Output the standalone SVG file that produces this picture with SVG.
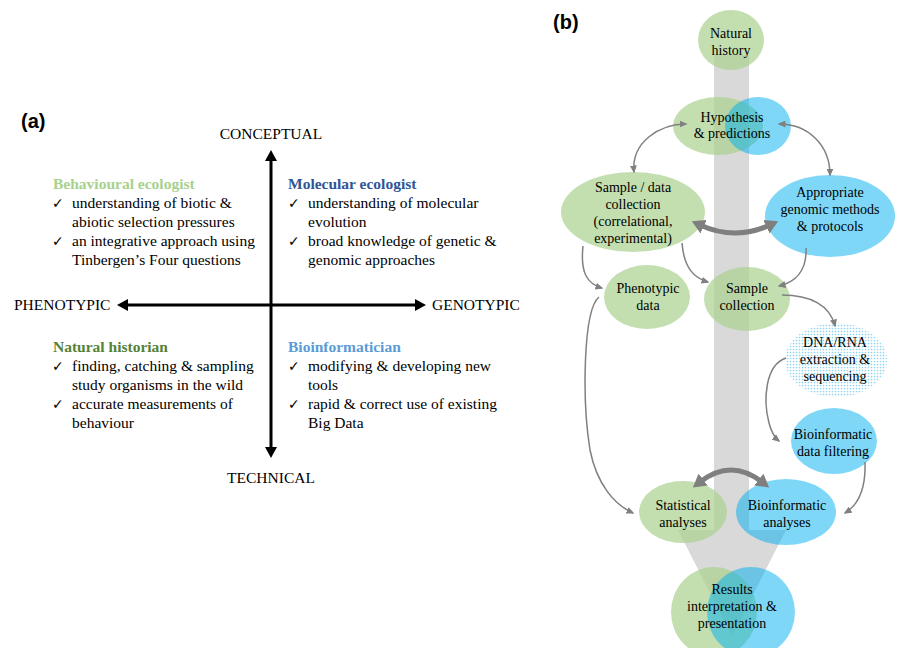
<svg xmlns="http://www.w3.org/2000/svg" width="898" height="648" viewBox="0 0 898 648">
<style>
  .lbl{font-family:"Liberation Sans",Arial,sans-serif;font-weight:bold;font-size:20px;fill:#000}
  .ax{font-family:"Liberation Serif","Times New Roman",serif;font-size:15.5px;fill:#000}
  .t{font-family:"Liberation Serif","Times New Roman",serif;font-size:15.5px;fill:#000}
  .h{font-family:"Liberation Serif","Times New Roman",serif;font-size:15.5px;font-weight:bold}
  .ck{font-family:"DejaVu Sans",sans-serif;font-size:14px;fill:#000}
  .n{font-family:"Liberation Serif","Times New Roman",serif;font-size:14px;fill:#000;text-anchor:middle}
  .g{fill:#a9d18e;fill-opacity:0.7}
  .b{fill:#00b0f0;fill-opacity:0.5}
  .c{fill:none;stroke:#808080;stroke-width:1.5}
  .ct{fill:none;stroke:#7f7f7f;stroke-width:5}
</style>
<defs>
  <marker id="ah" markerUnits="userSpaceOnUse" markerWidth="8" markerHeight="7" refX="6.5" refY="3.5" orient="auto-start-reverse">
    <path d="M0,0 L8,3.5 L0,7 z" fill="#808080"/>
  </marker>
  <marker id="ahT" markerUnits="userSpaceOnUse" markerWidth="14" markerHeight="15" refX="4" refY="7.5" orient="auto-start-reverse">
    <path d="M0,0 L13,7.5 L0,15 z" fill="#7f7f7f"/>
  </marker>
  <pattern id="dots" width="3" height="3" patternUnits="userSpaceOnUse">
    <rect width="3" height="3" fill="#ffffff"/>
    <circle cx="1.5" cy="1.5" r="0.85" fill="#8fd5f2"/>
  </pattern>
</defs>

<!-- Panel (a) -->
<text class="lbl" x="21" y="128">(a)</text>
<g id="axes">
  <line x1="271" y1="160" x2="271" y2="448" stroke="#000" stroke-width="3"/>
  <polygon points="271,150 265,161 277,161" fill="#000"/>
  <polygon points="271,458 265,447 277,447" fill="#000"/>
  <line x1="127" y1="305" x2="416" y2="305" stroke="#000" stroke-width="3"/>
  <polygon points="117,305 128,299 128,311" fill="#000"/>
  <polygon points="426,305 415,299 415,311" fill="#000"/>
  <text class="ax" x="271" y="139" text-anchor="middle">CONCEPTUAL</text>
  <text class="ax" x="271" y="483" text-anchor="middle">TECHNICAL</text>
  <text class="ax" x="14" y="310">PHENOTYPIC</text>
  <text class="ax" x="432" y="310">GENOTYPIC</text>
</g>
<g id="behavioural-ecologist">
  <text class="h" x="53" y="189" fill="#a9d18e">Behavioural ecologist</text>
  <text class="ck" x="52" y="208">✓</text>
  <text class="t" x="72" y="208">understanding of biotic &amp;</text>
  <text class="t" x="72" y="227">abiotic selection pressures</text>
  <text class="ck" x="52" y="246">✓</text>
  <text class="t" x="72" y="246">an integrative approach using</text>
  <text class="t" x="72" y="265">Tinbergen’s Four questions</text>
</g>
<g id="molecular-ecologist">
  <text class="h" x="288" y="189" fill="#2f5597">Molecular ecologist</text>
  <text class="ck" x="288" y="208">✓</text>
  <text class="t" x="308" y="208">understanding of molecular</text>
  <text class="t" x="308" y="227">evolution</text>
  <text class="ck" x="288" y="246">✓</text>
  <text class="t" x="308" y="246">broad knowledge of genetic &amp;</text>
  <text class="t" x="308" y="265">genomic approaches</text>
</g>
<g id="natural-historian">
  <text class="h" x="53" y="352" fill="#548235">Natural historian</text>
  <text class="ck" x="52" y="371">✓</text>
  <text class="t" x="72" y="371">finding, catching &amp; sampling</text>
  <text class="t" x="72" y="390">study organisms in the wild</text>
  <text class="ck" x="52" y="409">✓</text>
  <text class="t" x="72" y="409">accurate measurements of</text>
  <text class="t" x="72" y="428">behaviour</text>
</g>
<g id="bioinformatician">
  <text class="h" x="288" y="352" fill="#5b9bd5">Bioinformatician</text>
  <text class="ck" x="288" y="371">✓</text>
  <text class="t" x="308" y="371">modifying &amp; developing new</text>
  <text class="t" x="308" y="390">tools</text>
  <text class="ck" x="288" y="409">✓</text>
  <text class="t" x="308" y="409">rapid &amp; correct use of existing</text>
  <text class="t" x="308" y="428">Big Data</text>
</g>

<!-- Panel (b) -->
<text class="lbl" x="553" y="29">(b)</text>
<g id="band">
  <path d="M714,55 L749,55 L749,530 L786,530 L732,636 L678,530 L714,530 z" fill="#d9d9d9"/>
</g>
<g id="natural-history">
  <ellipse class="g" cx="731" cy="40" rx="33" ry="30"/>
  <text class="n" x="731" y="38">Natural</text>
  <text class="n" x="731" y="55">history</text>
</g>
<g id="hypothesis">
  <ellipse class="g" cx="718" cy="126" rx="45" ry="29"/>
  <ellipse class="b" cx="758" cy="126" rx="33" ry="29"/>
  <text class="n" x="732" y="122">Hypothesis</text>
  <text class="n" x="732" y="138">&amp; predictions</text>
</g>
<g id="sample-data-collection">
  <ellipse class="g" cx="633" cy="212" rx="72" ry="40"/>
  <text class="n" x="633" y="192">Sample / data</text>
  <text class="n" x="633" y="209">collection</text>
  <text class="n" x="633" y="226">(correlational,</text>
  <text class="n" x="633" y="243">experimental)</text>
</g>
<g id="genomic-methods">
  <ellipse class="b" cx="830" cy="216" rx="65" ry="41"/>
  <text class="n" x="830" y="197">Appropriate</text>
  <text class="n" x="830" y="214">genomic methods</text>
  <text class="n" x="830" y="231">&amp; protocols</text>
</g>
<g id="phenotypic-data">
  <ellipse class="g" cx="647" cy="297" rx="43" ry="32"/>
  <text class="n" x="648" y="293">Phenotypic</text>
  <text class="n" x="648" y="310">data</text>
</g>
<g id="sample-collection">
  <ellipse class="g" cx="747" cy="299" rx="43" ry="32"/>
  <text class="n" x="747" y="293">Sample</text>
  <text class="n" x="747" y="310">collection</text>
</g>
<g id="dna-rna">
  <ellipse cx="836" cy="360" rx="51" ry="37" fill="url(#dots)"/>
  <text class="n" x="835" y="347">DNA/RNA</text>
  <text class="n" x="835" y="364">extraction &amp;</text>
  <text class="n" x="835" y="381">sequencing</text>
</g>
<g id="bioinformatic-filtering">
  <ellipse class="b" cx="834" cy="441" rx="43" ry="33"/>
  <text class="n" x="833" y="439">Bioinformatic</text>
  <text class="n" x="833" y="456">data filtering</text>
</g>
<g id="statistical-analyses">
  <ellipse class="g" cx="683" cy="512" rx="44" ry="31"/>
  <text class="n" x="683" y="510">Statistical</text>
  <text class="n" x="683" y="527">analyses</text>
</g>
<g id="bioinformatic-analyses">
  <ellipse class="b" cx="786" cy="512" rx="50" ry="33"/>
  <text class="n" x="787" y="510">Bioinformatic</text>
  <text class="n" x="787" y="527">analyses</text>
</g>
<g id="results">
  <ellipse class="g" cx="714" cy="612" rx="43" ry="45"/>
  <ellipse class="b" cx="751" cy="612" rx="44" ry="45"/>
  <text class="n" x="732" y="594">Results</text>
  <text class="n" x="732" y="611">interpretation &amp;</text>
  <text class="n" x="732" y="628">presentation</text>
</g>

<g id="connectors">
  <path class="c" d="M634,172 C631,142 660,124 686,124" marker-start="url(#ah)" marker-end="url(#ah)"/>
  <path class="c" d="M779,124 C808,124 830,145 830,175" marker-start="url(#ah)" marker-end="url(#ah)"/>
  <path class="ct" d="M700,225 Q735,241 770,225" marker-start="url(#ahT)" marker-end="url(#ahT)"/>
  <path class="c" d="M583,246 C580,274 588,284 602,288" marker-end="url(#ah)"/>
  <path class="c" d="M682,243 C684,268 694,278 708,282" marker-end="url(#ah)"/>
  <path class="c" d="M806,248 C807,270 796,282 779,286" marker-end="url(#ah)"/>
  <path class="c" d="M782,295 C810,295 830,305 835,326" marker-end="url(#ah)"/>
  <path class="c" d="M786,358 C765,365 763,400 769,423 C771,431 774,437 779,441" marker-end="url(#ah)"/>
  <path class="c" d="M865,462 C866,490 858,505 845,513" marker-end="url(#ah)"/>
  <path class="c" d="M599,297 C583,310 582,400 590,450 C597,485 615,505 633,513" marker-end="url(#ah)"/>
  <path class="ct" d="M700,482 Q731,458 762,482" marker-start="url(#ahT)" marker-end="url(#ahT)"/>
</g>
</svg>
